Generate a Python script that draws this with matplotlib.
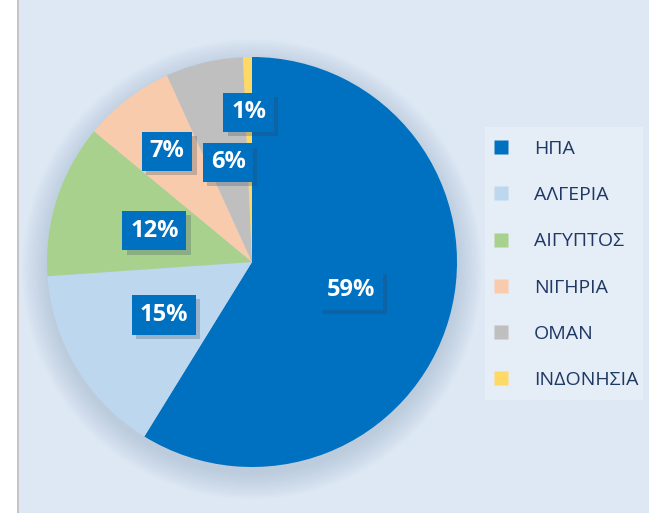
import numpy as np
import matplotlib
matplotlib.use("Agg")
import matplotlib.pyplot as plt
from matplotlib.patches import Circle, Rectangle
from matplotlib.lines import Line2D
import matplotlib.patheffects as pe

# dane
kraje = ["ΗΠΑ", "ΑΛΓΕΡΙΑ", "ΑΙΓΥΠΤΟΣ", "ΝΙΓΗΡΙΑ", "ΟΜΑΝ", "ΙΝΔΟΝΗΣΙΑ"]
udzialy = [58.8, 15.1, 12.1, 7.2, 6.1, 0.7]
kolory = ["#0070c0", "#bdd7ee", "#a9d18e", "#f8cbad", "#bfbfbf", "#ffd966"]

# odleglosc etykiet od srodka (jak w Excelu)
odl_etykiet = [0.5, 0.5, 0.5, 0.68, 0.5, 0.73]

tlo = "#dde8f4"
granat = "#1f3864"

W, H = 649, 513
fig = plt.figure(figsize=(W / 100, H / 100), dpi=100, facecolor=tlo)

# biały pasek z lewej i szara linia
fig.patches.append(Rectangle((0, 0), 17 / W, 1, transform=fig.transFigure,
                             facecolor="white", edgecolor="none", zorder=0))
fig.patches.append(Rectangle((17 / W, 0), 2 / W, 1, transform=fig.transFigure,
                             facecolor="#c4c4c4", edgecolor="none", zorder=0))

# osie dla wykresu kołowego
R = 205
lim = 1.3
cx, cy = 252, H - 262
bok = 2 * lim * R
ax = fig.add_axes([(cx - bok / 2) / W, (cy - bok / 2) / H, bok / W, bok / H])

# miękki cień pod kołem
for r in np.linspace(1.0, 1.12, 12):
    ax.add_patch(Circle((0, -0.035), r, facecolor="#7088a6", edgecolor="none",
                        alpha=0.025, zorder=0))

wedges, texty, autotexty = ax.pie(udzialy, colors=kolory, startangle=90,
                                  counterclock=False, radius=1.0,
                                  autopct="%.0f%%", pctdistance=0.5,
                                  wedgeprops=dict(linewidth=0, zorder=2))
ax.set_xlim(-lim, lim)
ax.set_ylim(-lim, lim)
ax.set_aspect("equal")
ax.axis("off")

for w, t, d in zip(wedges, autotexty, odl_etykiet):
    kat = np.deg2rad((w.theta1 + w.theta2) / 2)
    t.set_position((d * np.cos(kat), d * np.sin(kat)))
    t.set_color("white")
    t.set_fontfamily("Open Sans")
    t.set_fontweight("bold")
    t.set_fontsize(17)
    t.set_zorder(6)
    t.set_bbox(dict(boxstyle="square,pad=0.33", facecolor="#0070c0",
                    edgecolor="none"))
    # cień pod ramką etykiety
    t.get_bbox_patch().set_path_effects([
        pe.SimplePatchShadow(offset=(3, -3), shadow_rgbFace="#30445c", alpha=0.25),
        pe.Normal()])

# legenda
fig.patches.append(Rectangle((485 / W, 1 - 400 / H), 158 / W, 273 / H,
                             transform=fig.transFigure, facecolor="#e5edf6",
                             edgecolor="none", zorder=1))
uchwyty = [Line2D([], [], marker="s", linestyle="none", markersize=10,
                  markerfacecolor=k, markeredgecolor="none") for k in kolory]
leg = fig.legend(uchwyty, kraje, loc="upper left",
                 bbox_to_anchor=(491 / W, 1 - 140 / H), frameon=False,
                 prop=dict(family="Open Sans", size=14), handlelength=1.0,
                 handletextpad=1.2, labelspacing=1.45, borderaxespad=0,
                 borderpad=0)
for t in leg.get_texts():
    t.set_color(granat)

fig.savefig("out.png", dpi=100, facecolor=tlo)
